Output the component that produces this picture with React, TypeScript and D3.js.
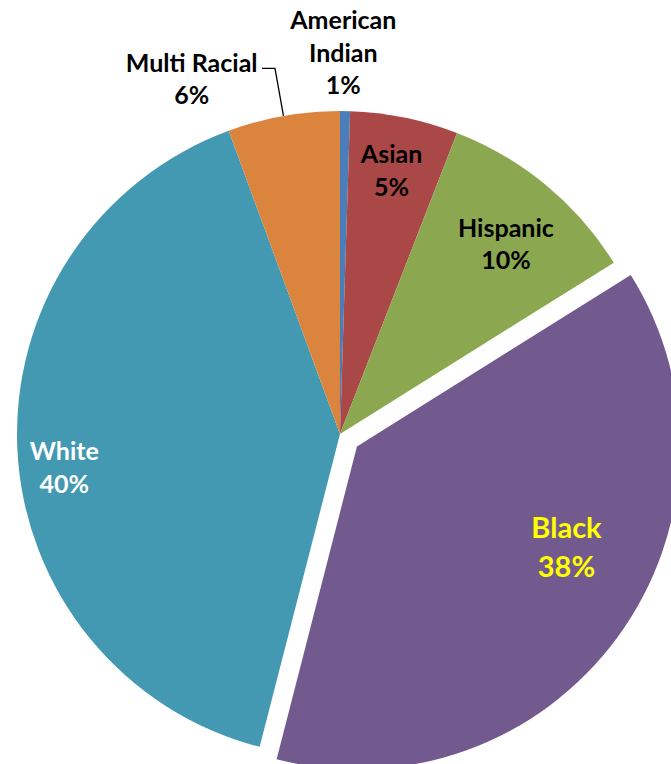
import * as d3 from 'd3';
import { useEffect, useRef } from 'react';

const categories = ['American Indian', 'Asian', 'Hispanic', 'Black', 'White', 'Multi Racial'];
const values = [0.5, 5.4, 10.2, 37.9, 40.4, 5.6];
const colors = ['#4A7EBB', '#A94846', '#8BA74F', '#72598E', '#4399B1', '#DB843D'];

// label placement: angle in degrees (clockwise from top), radius as fraction of R
const labelAngle = [0.5, 11.1, 41.2, 115.7, 263, 337.3];
const labelRadius = [1.18, 0.83, 0.78, 0.72, 0.86, 1.19];
const labelColor = ['#000', '#000', '#000', '#FFFF00', '#FFF', '#000'];
const labelLines = [['American', 'Indian'], ['Asian'], ['Hispanic'], ['Black'], ['White'], ['Multi Racial']];

const App = (): React.ReactElement => {
  const ref: any = useRef();
  const width = 671;
  const height = 764;
  const cx = 340;
  const cy = 434;
  const R = 323;
  const explode = 21;

  useEffect(() => {
    const svg = d3.select(ref.current).attr('width', width).attr('height', height);
    svg.selectAll('*').remove();

    const pie = d3
      .pie<number>()
      .sort(null)
      .value((d) => d);
    const arcs = pie(values);
    const arc = d3.arc<d3.PieArcDatum<number>>().innerRadius(0).outerRadius(R);

    const polar = (deg: number, r: number) => {
      const a = (deg * Math.PI) / 180;
      return [r * Math.sin(a), -r * Math.cos(a)];
    };

    const g = svg.append('g').attr('transform', 'translate(' + cx + ',' + cy + ')');

    const shift = (i: number) => {
      if (categories[i] !== 'Black') return [0, 0];
      const mid = (arcs[i].startAngle + arcs[i].endAngle) / 2;
      return [explode * Math.sin(mid), -explode * Math.cos(mid)];
    };

    g.selectAll('path')
      .data(arcs)
      .enter()
      .append('path')
      .attr('d', (d) => arc(d) ?? '')
      .attr('transform', (d, i) => {
        const s = shift(i);
        return 'translate(' + s[0] + ',' + s[1] + ')';
      })
      .attr('fill', (d, i) => colors[i]);

    // leader line for Multi Racial
    const mi = categories.indexOf('Multi Racial');
    const midDeg = (((arcs[mi].startAngle + arcs[mi].endAngle) / 2) * 180) / Math.PI;
    const end = polar(midDeg, R);
    const elbow = polar(midDeg, R * 1.15);
    g.append('polyline')
      .attr('points', [[elbow[0] - 13, elbow[1]], elbow, end].map((p) => p.join(',')).join(' '))
      .attr('fill', 'none')
      .attr('stroke', '#000')
      .attr('stroke-width', 1.3);

    arcs.forEach((d, i) => {
      const s = shift(i);
      const p = polar(labelAngle[i], R * labelRadius[i]);
      const big = categories[i] === 'Black';
      const fs = big ? 29 : 25;
      const lh = big ? 39.5 : 32.5;
      const lines = [...labelLines[i], Math.round(values[i]) + '%'];
      const t = g
        .append('text')
        .attr('x', p[0] + s[0])
        .attr('y', p[1] + s[1] - ((lines.length - 1) * lh) / 2)
        .attr('text-anchor', 'middle')
        .attr('font-family', 'Lato, "Open Sans", sans-serif')
        .attr('font-weight', 'bold')
        .attr('font-size', fs)
        .attr('fill', labelColor[i]);
      lines.forEach((ln, k) => {
        t.append('tspan')
          .attr('x', p[0] + s[0])
          .attr('dy', k === 0 ? '0.35em' : lh)
          .text(ln);
      });
    });
  }, []);

  return (
    <div style={{ position: 'absolute', left: 0, top: 0, width, height, overflow: 'hidden' }}>
      <svg ref={ref} style={{ display: 'block' }} />
    </div>
  );
};

export default App;
